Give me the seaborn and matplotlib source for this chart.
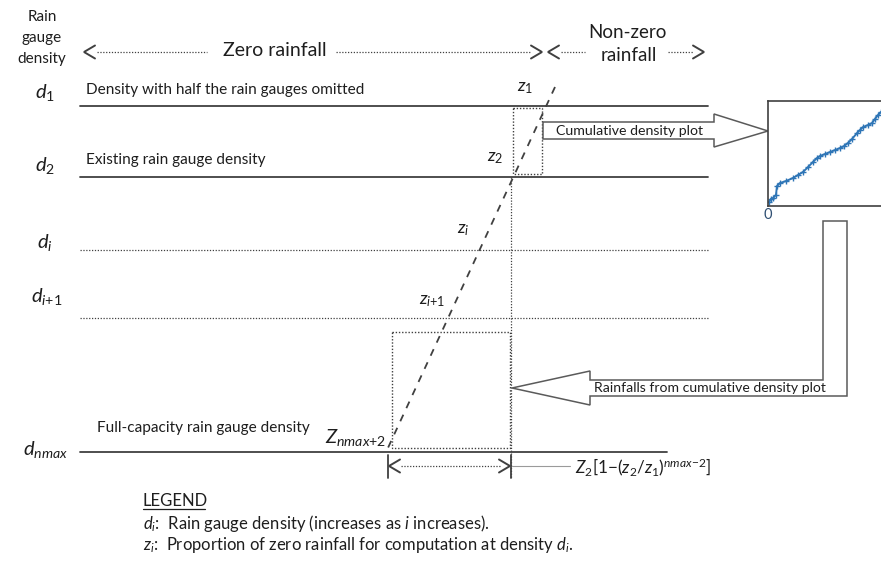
import numpy as np
import pandas as pd
import matplotlib
matplotlib.use("Agg")
import matplotlib.pyplot as plt
from matplotlib.patches import Polygon, Rectangle
import seaborn as sns

# ---------------- content ----------------
axis_title = ["Rain", "gauge", "density"]
zone_labels = ["Zero rainfall", "Non-zero", "rainfall"]
density_labels = [r"$d_{\mathit{1}}$", r"$d_{\mathit{2}}$", r"$d_{i}$",
                  r"$d_{i\mathit{+1}}$", r"$d_{nmax}$"]
level_styles = ["solid", "solid", "dotted", "dotted", "solid"]
level_notes = ["Density with half the rain gauges omitted",
               "Existing rain gauge density", "", "",
               "Full-capacity rain gauge density"]
z_labels = [r"$z_{\mathit{1}}$", r"$z_{\mathit{2}}$", r"$z_{i}$",
            r"$z_{i\mathit{+1}}$", r"$Z_{nmax\mathit{+2}}$"]
arrow_labels = ["Cumulative density plot",
                "Rainfalls from cumulative density plot"]
formula = r"$Z_{\mathit{2}}[\mathit{1}{-}(z_{\mathit{2}}/z_{\mathit{1}})^{nmax{-}\mathit{2}}]$"
legend_title = "LEGEND"
legend_lines = [r"$d_i$:  Rain gauge density (increases as $i$ increases).",
                r"$z_i$:  Proportion of zero rainfall for computation at density $d_i$."]
inset_tick = "0"

# cumulative density curve in the inset (fractions of the inset axes)
cdf_x = [0.007, 0.021, 0.036, 0.057, 0.064, 0.086, 0.129, 0.179, 0.214, 0.250,
         0.286, 0.321, 0.350, 0.371, 0.407, 0.443, 0.479, 0.514, 0.543, 0.571,
         0.600, 0.636, 0.657, 0.679, 0.714, 0.743, 0.764, 0.786, 0.807, 0.843]
cdf_y = [0.038, 0.067, 0.076, 0.105, 0.190, 0.219, 0.238, 0.267, 0.295, 0.324,
         0.371, 0.419, 0.457, 0.476, 0.495, 0.514, 0.533, 0.552, 0.571, 0.600,
         0.638, 0.695, 0.724, 0.752, 0.771, 0.790, 0.829, 0.867, 0.895, 0.943]

# ---------------- layout (pixel space of the 881x561 canvas) ----------------
W, H = 881, 561
level_y = [106, 177, 250, 318, 452]
level_x1 = [708, 708, 708, 708, 667]
dlabel_pos = [(45, 92), (45, 165), (45, 242), (47, 296), (45, 449)]
note_pos = [(86, 90), (86, 160), None, None, (97, 428)]
zlabel_pos = [(525, 88), (495, 158), (463, 230), (432, 301), (356, 437)]
z_line_x = [555, 387]
z_line_y = [87, 450]

TXT = "#1e1e1e"
LN = "#404040"
ARW = "#5a5a5a"
BLUE = "#2e75b6"

sns.set_style("white")
plt.rcParams["font.family"] = ["Lato", "DejaVu Sans"]
plt.rcParams["mathtext.fontset"] = "custom"
plt.rcParams["mathtext.it"] = "Lato:italic"
plt.rcParams["mathtext.rm"] = "Lato"
plt.rcParams["mathtext.bf"] = "Lato:bold"

fig = plt.figure(figsize=(W / 100, H / 100), dpi=100)
ax = fig.add_axes([0, 0, 1, 1])
ax.set_xlim(0, W)
ax.set_ylim(H, 0)
ax.axis("off")

DOT = (0, (1, 1.3))


def chevron(xt, y, d, size=11, half=6.5):
    # d = -1 for "<" (tip on left), +1 for ">" (tip on right)
    ax.plot([xt - d * size, xt, xt - d * size], [y - half, y, y + half],
            color=LN, lw=1.4, solid_joinstyle="miter")


# axis title
for i, t in enumerate(axis_title):
    ax.text(42, 17 + i * 21, t, ha="center", va="center", fontsize=11, color=TXT)

# zone arrows on top
yt = 52
chevron(84, yt, -1)
ax.plot([97, 207], [yt, yt], color=LN, lw=0.9, ls=DOT)
ax.text(275, 50, zone_labels[0], ha="center", va="center", fontsize=14, color=TXT)
ax.plot([336, 531], [yt, yt], color=LN, lw=0.9, ls=DOT)
chevron(542, yt, 1)
chevron(548, yt, -1)
ax.plot([561, 585], [yt, yt], color=LN, lw=0.9, ls=DOT)
ax.text(627, 32, zone_labels[1], ha="center", va="center", fontsize=13.5, color=TXT)
ax.text(629, 55, zone_labels[2], ha="center", va="center", fontsize=13.5, color=TXT)
ax.plot([668, 693], [yt, yt], color=LN, lw=0.9, ls=DOT)
chevron(704, yt, 1)

# density levels
for k in range(len(level_y)):
    st = level_styles[k]
    if st == "solid":
        ax.plot([80, level_x1[k]], [level_y[k], level_y[k]], color=LN, lw=1.3)
    else:
        ax.plot([80, level_x1[k]], [level_y[k], level_y[k]], color=LN, lw=0.9, ls=DOT)
    x, y = dlabel_pos[k]
    ax.text(x, y, density_labels[k], ha="center", va="center", fontsize=14.5, color=TXT)
    if note_pos[k] is not None:
        nx, ny = note_pos[k]
        ax.text(nx, ny, level_notes[k], ha="left", va="center", fontsize=11.1, color=TXT)
    zx, zy = zlabel_pos[k]
    ax.text(zx, zy, z_labels[k], ha="center", va="center",
            fontsize=14.5 if k == 4 else 13, color=TXT)

# slanted z line
sns.lineplot(x=z_line_x, y=z_line_y, ax=ax, color=LN, lw=1.3, sort=False,
             estimator=None, linestyle=(0, (4, 4)))

# dotted boxes
ax.add_patch(Rectangle((513, 108), 29, 66, fill=False, ec=LN, lw=1.0, ls=DOT))
ax.add_patch(Rectangle((392, 332), 118, 116, fill=False, ec=LN, lw=1.0, ls=DOT))
ax.plot([511, 511], [177, 478], color=LN, lw=0.9, ls=DOT)

# bottom span arrow
yb = 466
ax.plot([388, 388], [455, 478], color=LN, lw=1.3)
chevron(389, yb, -1)
ax.plot([401, 500], [yb, yb], color=LN, lw=0.9, ls=DOT)
chevron(510, yb, 1)
ax.plot([511, 511], [455, 478], color=LN, lw=1.3)
ax.plot([512, 570], [yb, yb], color="#9a9a9a", lw=0.8)
ax.text(575, 467, formula, ha="left", va="center", fontsize=12.3, color=TXT)

# block arrow: cumulative density plot
cum = [(543, 122), (714, 122), (714, 114), (768, 131), (714, 147), (714, 139), (543, 139)]
ax.add_patch(Polygon(cum, closed=True, fc="white", ec=ARW, lw=1.1, zorder=3))
ax.text(630, 130.5, arrow_labels[0], ha="center", va="center", fontsize=10.2,
        color=TXT, zorder=4)

# bent block arrow: rainfalls from cumulative density plot
rain = [(512, 388), (590, 371), (590, 380), (823, 380), (823, 221), (847, 221),
        (847, 396), (590, 396), (590, 405)]
ax.add_patch(Polygon(rain, closed=True, fc="white", ec=ARW, lw=1.1, zorder=3))
ax.text(710, 387.5, arrow_labels[1], ha="center", va="center", fontsize=10.1,
        color=TXT, zorder=4)

# legend
ax.text(143, 501, legend_title, ha="left", va="center", fontsize=12, color=TXT)
ax.plot([143, 205], [509, 509], color=TXT, lw=0.9)
ax.text(143, 523, legend_lines[0], ha="left", va="center", fontsize=12, color=TXT)
ax.text(143, 545, legend_lines[1], ha="left", va="center", fontsize=12, color=TXT)

# inset cumulative density plot
ax_in = fig.add_axes([768 / W, 1 - 206 / H, 140 / W, 105 / H])
sns.lineplot(x=cdf_x, y=cdf_y, ax=ax_in, color=BLUE, lw=1.4, linestyle="-",
             sort=False, estimator=None, marker="+", markersize=5,
             markeredgewidth=1.0, markeredgecolor=BLUE, markerfacecolor=BLUE)
ax_in.set_xlim(0, 1)
ax_in.set_ylim(0, 1)
ax_in.set_xticks([])
ax_in.set_yticks([])
for s in ax_in.spines.values():
    s.set_color("#404040")
    s.set_linewidth(1.2)
ax.text(768, 215, inset_tick, ha="center", va="center", fontsize=10.5, color="#2f4f73")

fig.savefig("out.png", dpi=100)
